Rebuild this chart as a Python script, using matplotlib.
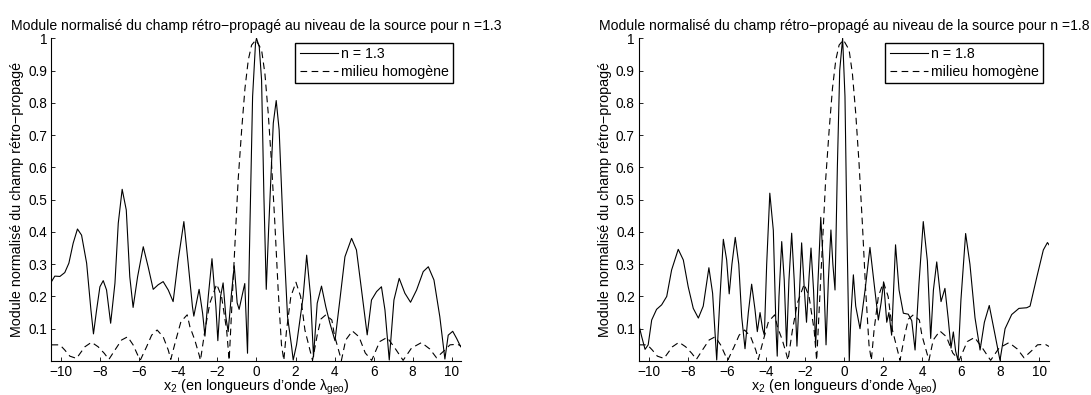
import matplotlib
matplotlib.use('Agg')
import matplotlib.pyplot as plt

plt.rcParams['font.family'] = ['Liberation Sans', 'DejaVu Sans']
plt.rcParams['mathtext.fontset'] = 'custom'
plt.rcParams['mathtext.rm'] = 'Liberation Sans'
plt.rcParams['mathtext.it'] = 'Liberation Sans:italic'
plt.rcParams['font.size'] = 10

# champ en milieu homogene (meme courbe sur les deux figures)
x_homog = [-10.5, -10.33, -10.07, -9.82, -9.56, -9.22, -8.79, -8.45, -8.11, -7.8, -7.56,
           -7.25, -6.91, -6.6, -6.32, -6.06, -5.94, -5.63, -5.37, -5.09, -4.78, -4.52,
           -4.39, -4.13, -3.87, -3.55, -3.41, -3.16, -2.94, -2.87, -2.64, -2.39, -2.04,
           -1.79, -1.53, -1.4, -1.28, -1.11, -0.94, -0.76, -0.59, -0.42, -0.25, -0.03,
           0.26, 0.43, 0.6, 0.77, 0.94, 1.11, 1.28, 1.4, 1.54, 1.76, 2.02, 2.26, 2.48,
           2.87, 3.11, 3.3, 3.55, 3.86, 3.99, 4.35, 4.57, 4.91, 5.25, 5.57, 5.9, 6.31,
           6.69, 7.09, 7.51, 7.94, 8.45, 8.88, 9.22, 9.65, 9.91, 10.3, 10.5]
y_homog = [0.05, 0.05, 0.05, 0.034, 0.015, 0.008, 0.044, 0.058, 0.044, 0.024, 0.005,
           0.034, 0.065, 0.075, 0.05, 0.015, 0.004, 0.044, 0.08, 0.096, 0.075, 0.034,
           0.005, 0.065, 0.122, 0.143, 0.106, 0.065, 0.019, 0.002, 0.096, 0.179, 0.238,
           0.2, 0.096, 0.002, 0.148, 0.354, 0.561, 0.716, 0.845, 0.933, 0.979, 0.995,
           0.964, 0.891, 0.768, 0.613, 0.427, 0.22, 0.05, 0.002, 0.096, 0.2, 0.244, 0.2,
           0.096, 0.002, 0.08, 0.13, 0.143, 0.127, 0.08, 0.002, 0.065, 0.093, 0.075,
           0.025, 0.002, 0.06, 0.073, 0.04, 0.002, 0.04, 0.057, 0.037, 0.01, 0.034,
           0.05, 0.052, 0.045]

# n = 1.3
x_n13 = [-10.5, -10.33, -10.07, -9.82, -9.61, -9.39, -9.17, -8.96, -8.7, -8.48, -8.35,
         -8.19, -8.02, -7.85, -7.68, -7.47, -7.25, -7.08, -6.88, -6.67, -6.49, -6.32,
         -6.09, -5.8, -5.55, -5.29, -5.04, -4.78, -4.52, -4.27, -4.01, -3.72, -3.5,
         -3.28, -3.21, -2.94, -2.76, -2.64, -2.47, -2.28, -2.08, -1.98, -1.84, -1.71,
         -1.57, -1.45, -1.28, -1.14, -0.99, -0.89, -0.71, -0.6, -0.46, -0.34, -0.2,
         -0.05, 0.0, 0.14, 0.26, 0.38, 0.5, 0.62, 0.86, 1.01, 1.16, 1.37, 1.59, 1.8,
         1.88, 2.05, 2.39, 2.57, 2.77, 2.92, 3.11, 3.33, 3.55, 3.76, 4.02, 4.27, 4.53,
         4.87, 5.12, 5.38, 5.67, 5.89, 6.15, 6.4, 6.58, 6.8, 7.04, 7.31, 7.6, 7.89,
         8.2, 8.54, 8.8, 9.09, 9.39, 9.65, 9.82, 10.05, 10.25, 10.46]
y_n13 = [0.246, 0.263, 0.262, 0.274, 0.303, 0.365, 0.409, 0.39, 0.303, 0.158, 0.084,
         0.158, 0.23, 0.249, 0.22, 0.117, 0.241, 0.427, 0.532, 0.468, 0.261, 0.166,
         0.261, 0.354, 0.292, 0.222, 0.236, 0.246, 0.22, 0.184, 0.313, 0.432, 0.303,
         0.168, 0.139, 0.222, 0.148, 0.077, 0.2, 0.317, 0.168, 0.063, 0.2, 0.242,
         0.137, 0.091, 0.21, 0.295, 0.18, 0.16, 0.21, 0.24, 0.024, 0.406, 0.819,
         0.985, 1.0, 0.974, 0.871, 0.509, 0.222, 0.406, 0.737, 0.807, 0.716, 0.406,
         0.137, 0.044, 0.003, 0.05, 0.2, 0.328, 0.2, 0.013, 0.179, 0.232, 0.168,
         0.117, 0.063, 0.189, 0.323, 0.38, 0.344, 0.22, 0.081, 0.189, 0.215, 0.23,
         0.158, 0.003, 0.189, 0.256, 0.21, 0.182, 0.22, 0.277, 0.292, 0.251, 0.137,
         0.006, 0.08, 0.092, 0.07, 0.044]

# n = 1.8
x_n18 = [-10.5, -10.36, -10.19, -10.03, -9.85, -9.6, -9.34, -9.08, -8.83, -8.49, -8.23,
         -7.98, -7.72, -7.46, -7.21, -6.92, -6.73, -6.52, -6.35, -6.18, -6.01, -5.88,
         -5.74, -5.57, -5.39, -5.24, -5.07, -4.9, -4.73, -4.56, -4.44, -4.3, -4.17,
         -4.08, -3.96, -3.8, -3.62, -3.48, -3.42, -3.33, -3.19, -3.06, -2.94, -2.82,
         -2.68, -2.55, -2.41, -2.29, -2.17, -2.03, -1.92, -1.79, -1.69, -1.56, -1.45,
         -1.35, -1.19, -1.06, -0.92, -0.8, -0.67, -0.57, -0.46, -0.34, -0.22, -0.07,
         0.05, 0.15, 0.27, 0.36, 0.48, 0.6, 0.82, 1.08, 1.33, 1.58, 1.76, 1.9, 2.03,
         2.19, 2.3, 2.44, 2.64, 2.82, 3.04, 3.29, 3.47, 3.64, 3.84, 4.06, 4.27, 4.44,
         4.58, 4.75, 4.97, 5.17, 5.34, 5.48, 5.6, 5.72, 5.84, 5.99, 6.23, 6.45, 6.71,
         6.97, 7.19, 7.44, 7.74, 7.99, 8.25, 8.59, 8.96, 9.36, 9.53, 9.88, 10.21,
         10.42, 10.5]
y_n18 = [0.11, 0.075, 0.036, 0.05, 0.127, 0.16, 0.174, 0.2, 0.282, 0.346, 0.313,
         0.23, 0.163, 0.133, 0.17, 0.289, 0.21, 0.003, 0.2, 0.377, 0.313, 0.208,
         0.3, 0.383, 0.3, 0.137, 0.038, 0.15, 0.238, 0.16, 0.091, 0.15, 0.1,
         0.08, 0.3, 0.52, 0.405, 0.096, 0.015, 0.2, 0.37, 0.25, 0.046, 0.25,
         0.396, 0.25, 0.046, 0.2, 0.366, 0.22, 0.12, 0.26, 0.35, 0.22, 0.047,
         0.22, 0.445, 0.3, 0.05, 0.25, 0.406, 0.3, 0.22, 0.6, 0.9, 1.0,
         0.82, 0.406, 0.0, 0.147, 0.267, 0.17, 0.1, 0.22, 0.352, 0.22, 0.127, 0.18,
         0.245, 0.12, 0.15, 0.08, 0.36, 0.22, 0.148, 0.145, 0.125, 0.034, 0.24,
         0.432, 0.31, 0.07, 0.22, 0.307, 0.184, 0.225, 0.13, 0.04, 0.09, 0.03,
         0.002, 0.19, 0.395, 0.3, 0.134, 0.034, 0.12, 0.172, 0.08, 0.002, 0.1,
         0.144, 0.163, 0.165, 0.17, 0.261, 0.344, 0.367, 0.36]

titre = 'Module normalisé du champ rétro\u2212propagé au niveau de la source pour n =%s'
xlab = 'x$_\\mathrm{2}$ (en longueurs d\u2019onde \u03bb$_\\mathrm{geo}$)'
ylab = 'Module normalisé du champ rétro\u2212propagé'
xticks = [-10, -8, -6, -4, -2, 0, 2, 4, 6, 8, 10]
yticks = [0.1, 0.2, 0.3, 0.4, 0.5, 0.6, 0.7, 0.8, 0.9, 1]
ytick_labels = ['0.1', '0.2', '0.3', '0.4', '0.5', '0.6', '0.7', '0.8', '0.9', '1']

fig = plt.figure(figsize=(10.91, 3.95), dpi=100)
ax1 = fig.add_axes([0.0472, 0.0861, 0.3758, 0.817])
ax2 = fig.add_axes([0.5857, 0.0861, 0.3758, 0.817])

panels = [(ax1, x_n13, y_n13, '1.3', 0.979), (ax2, x_n18, y_n18, '1.8', 0.985)]
for ax, xs, ys, n, leg_x in panels:
    ax.plot(xs, ys, 'k-', lw=0.8, label='n = ' + n)
    ax.plot(x_homog, y_homog, 'k', lw=0.8, dashes=(6, 4), label='milieu homogène')
    ax.set_xlim(-10.5, 10.5)
    ax.set_ylim(0, 1)
    ax.set_xticks(xticks)
    ax.set_yticks(yticks)
    ax.set_yticklabels(ytick_labels)
    ax.tick_params(direction='in', length=3, width=0.6, pad=3, labelsize=9.8)
    ax.spines['top'].set_visible(False)
    ax.spines['right'].set_visible(False)
    for s in ['left', 'bottom']:
        ax.spines[s].set_linewidth(0.8)
    ax.set_title(titre % n, pad=6, fontsize=10.1)
    ax.set_xlabel(xlab, labelpad=-1, fontsize=10.4)
    ax.set_ylabel(ylab, labelpad=3, fontsize=10.3)
    leg = ax.legend(loc='upper right', bbox_to_anchor=(leg_x, 0.985), borderaxespad=0,
                    fancybox=False, edgecolor='k', framealpha=1, handlelength=2.7,
                    handletextpad=0.2, borderpad=0.3, labelspacing=0.25, fontsize=10.2)
    leg.get_frame().set_linewidth(1.0)

plt.savefig('out.png', dpi=100)
